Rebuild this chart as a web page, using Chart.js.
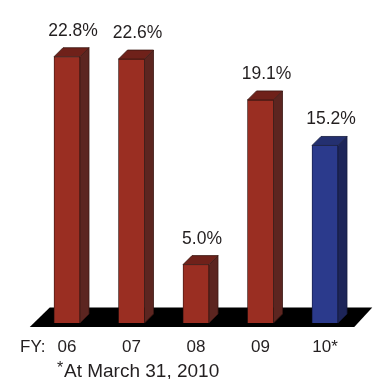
<!DOCTYPE html>
<html>
<head>
<meta charset="utf-8">
<script src="https://cdn.jsdelivr.net/npm/chart.js@4"></script>
<style>
  html, body { margin: 0; padding: 0; background: #fff; }
  canvas { display: block; }
</style>
</head>
<body>
<canvas id="chart" width="378" height="379"></canvas>
<script>
// fiscal years and ratio values (%)
var years = ['06', '07', '08', '09', '10*'];
var ratios = [22.8, 22.6, 5.0, 19.1, 15.2];
var frontColors = ['#9a2e22', '#9a2e22', '#9a2e22', '#9a2e22', '#2b3a8c'];
var sideColors = ['#5c2520', '#5c2520', '#5c2520', '#5c2520', '#1d2559'];
var topColors = ['#6f211a', '#6f211a', '#6f211a', '#6f211a', '#243070'];
var edgeColors = ['#3a1612', '#3a1612', '#3a1612', '#3a1612', '#141a3e'];

var FONT = '"Liberation Sans", Arial, sans-serif';
var DX = 9, DY = 9; // depth of the 3d boxes

function poly(ctx, pts, fill, stroke) {
  ctx.beginPath();
  ctx.moveTo(pts[0][0], pts[0][1]);
  for (var i = 1; i < pts.length; i++) ctx.lineTo(pts[i][0], pts[i][1]);
  ctx.closePath();
  ctx.fillStyle = fill;
  ctx.fill();
  if (stroke) {
    ctx.strokeStyle = stroke;
    ctx.lineWidth = 0.8;
    ctx.stroke();
  }
}

// black floor under the bars
var floorPlugin = {
  id: 'floor',
  beforeDatasetsDraw: function(chart) {
    var a = chart.chartArea, ctx = chart.ctx;
    ctx.save();
    poly(ctx, [
      [a.left - 5, a.bottom + 4],
      [a.left + 15, a.bottom - 15.5],
      [a.right + 15, a.bottom - 15.5],
      [a.right - 3, a.bottom + 4]
    ], '#000');
    ctx.restore();
  }
};

// side + top faces, value labels
var boxPlugin = {
  id: 'box3d',
  afterDatasetsDraw: function(chart) {
    var ctx = chart.ctx;
    var meta = chart.getDatasetMeta(0);
    ctx.save();
    meta.data.forEach(function(bar, i) {
      var l = bar.x - bar.width / 2, r = bar.x + bar.width / 2;
      var t = bar.y, b = bar.base;
      poly(ctx, [[r, t], [r + DX, t - DY], [r + DX, b - DY], [r, b]], sideColors[i], edgeColors[i]);
      poly(ctx, [[l, t], [l + DX, t - DY], [r + DX, t - DY], [r, t]], topColors[i], edgeColors[i]);

      ctx.fillStyle = '#231f20';
      ctx.font = '17.5px ' + FONT;
      ctx.textAlign = 'center';
      ctx.textBaseline = 'alphabetic';
      ctx.fillText(ratios[i].toFixed(1) + '%', bar.x + 6, t - DY - 12);
    });
    ctx.restore();
  },
  afterDraw: function(chart) {
    var ctx = chart.ctx;
    ctx.save();
    ctx.fillStyle = '#231f20';
    ctx.textBaseline = 'alphabetic';
    ctx.font = '17px ' + FONT;
    ctx.textAlign = 'left';
    ctx.fillText('FY:', 20, 352);
    // footnote
    ctx.font = '16px ' + FONT;
    ctx.fillText('*', 57, 373);
    ctx.font = '19px ' + FONT;
    ctx.fillText('At March 31, 2010', 64, 377);
    ctx.restore();
  }
};

new Chart(document.getElementById('chart'), {
  type: 'bar',
  data: {
    labels: years,
    datasets: [{
      data: ratios,
      backgroundColor: frontColors,
      borderColor: edgeColors,
      borderWidth: 0.8,
      barThickness: 26
    }]
  },
  options: {
    responsive: false,
    animation: false,
    events: [],
    layout: { padding: { left: 34.75, right: 20.75, top: 10, bottom: 0 } },
    plugins: { legend: { display: false }, tooltip: { enabled: false } },
    scales: {
      y: { display: false, min: 0, max: 26.8 },
      x: {
        grid: { display: false, drawTicks: false },
        border: { display: false },
        ticks: {
          color: '#231f20',
          font: { family: FONT, size: 17 },
          padding: 14,
          maxRotation: 0
        },
        afterFit: function(scale) { scale.height = 56; }
      }
    }
  },
  plugins: [floorPlugin, boxPlugin]
});
</script>
</body>
</html>
